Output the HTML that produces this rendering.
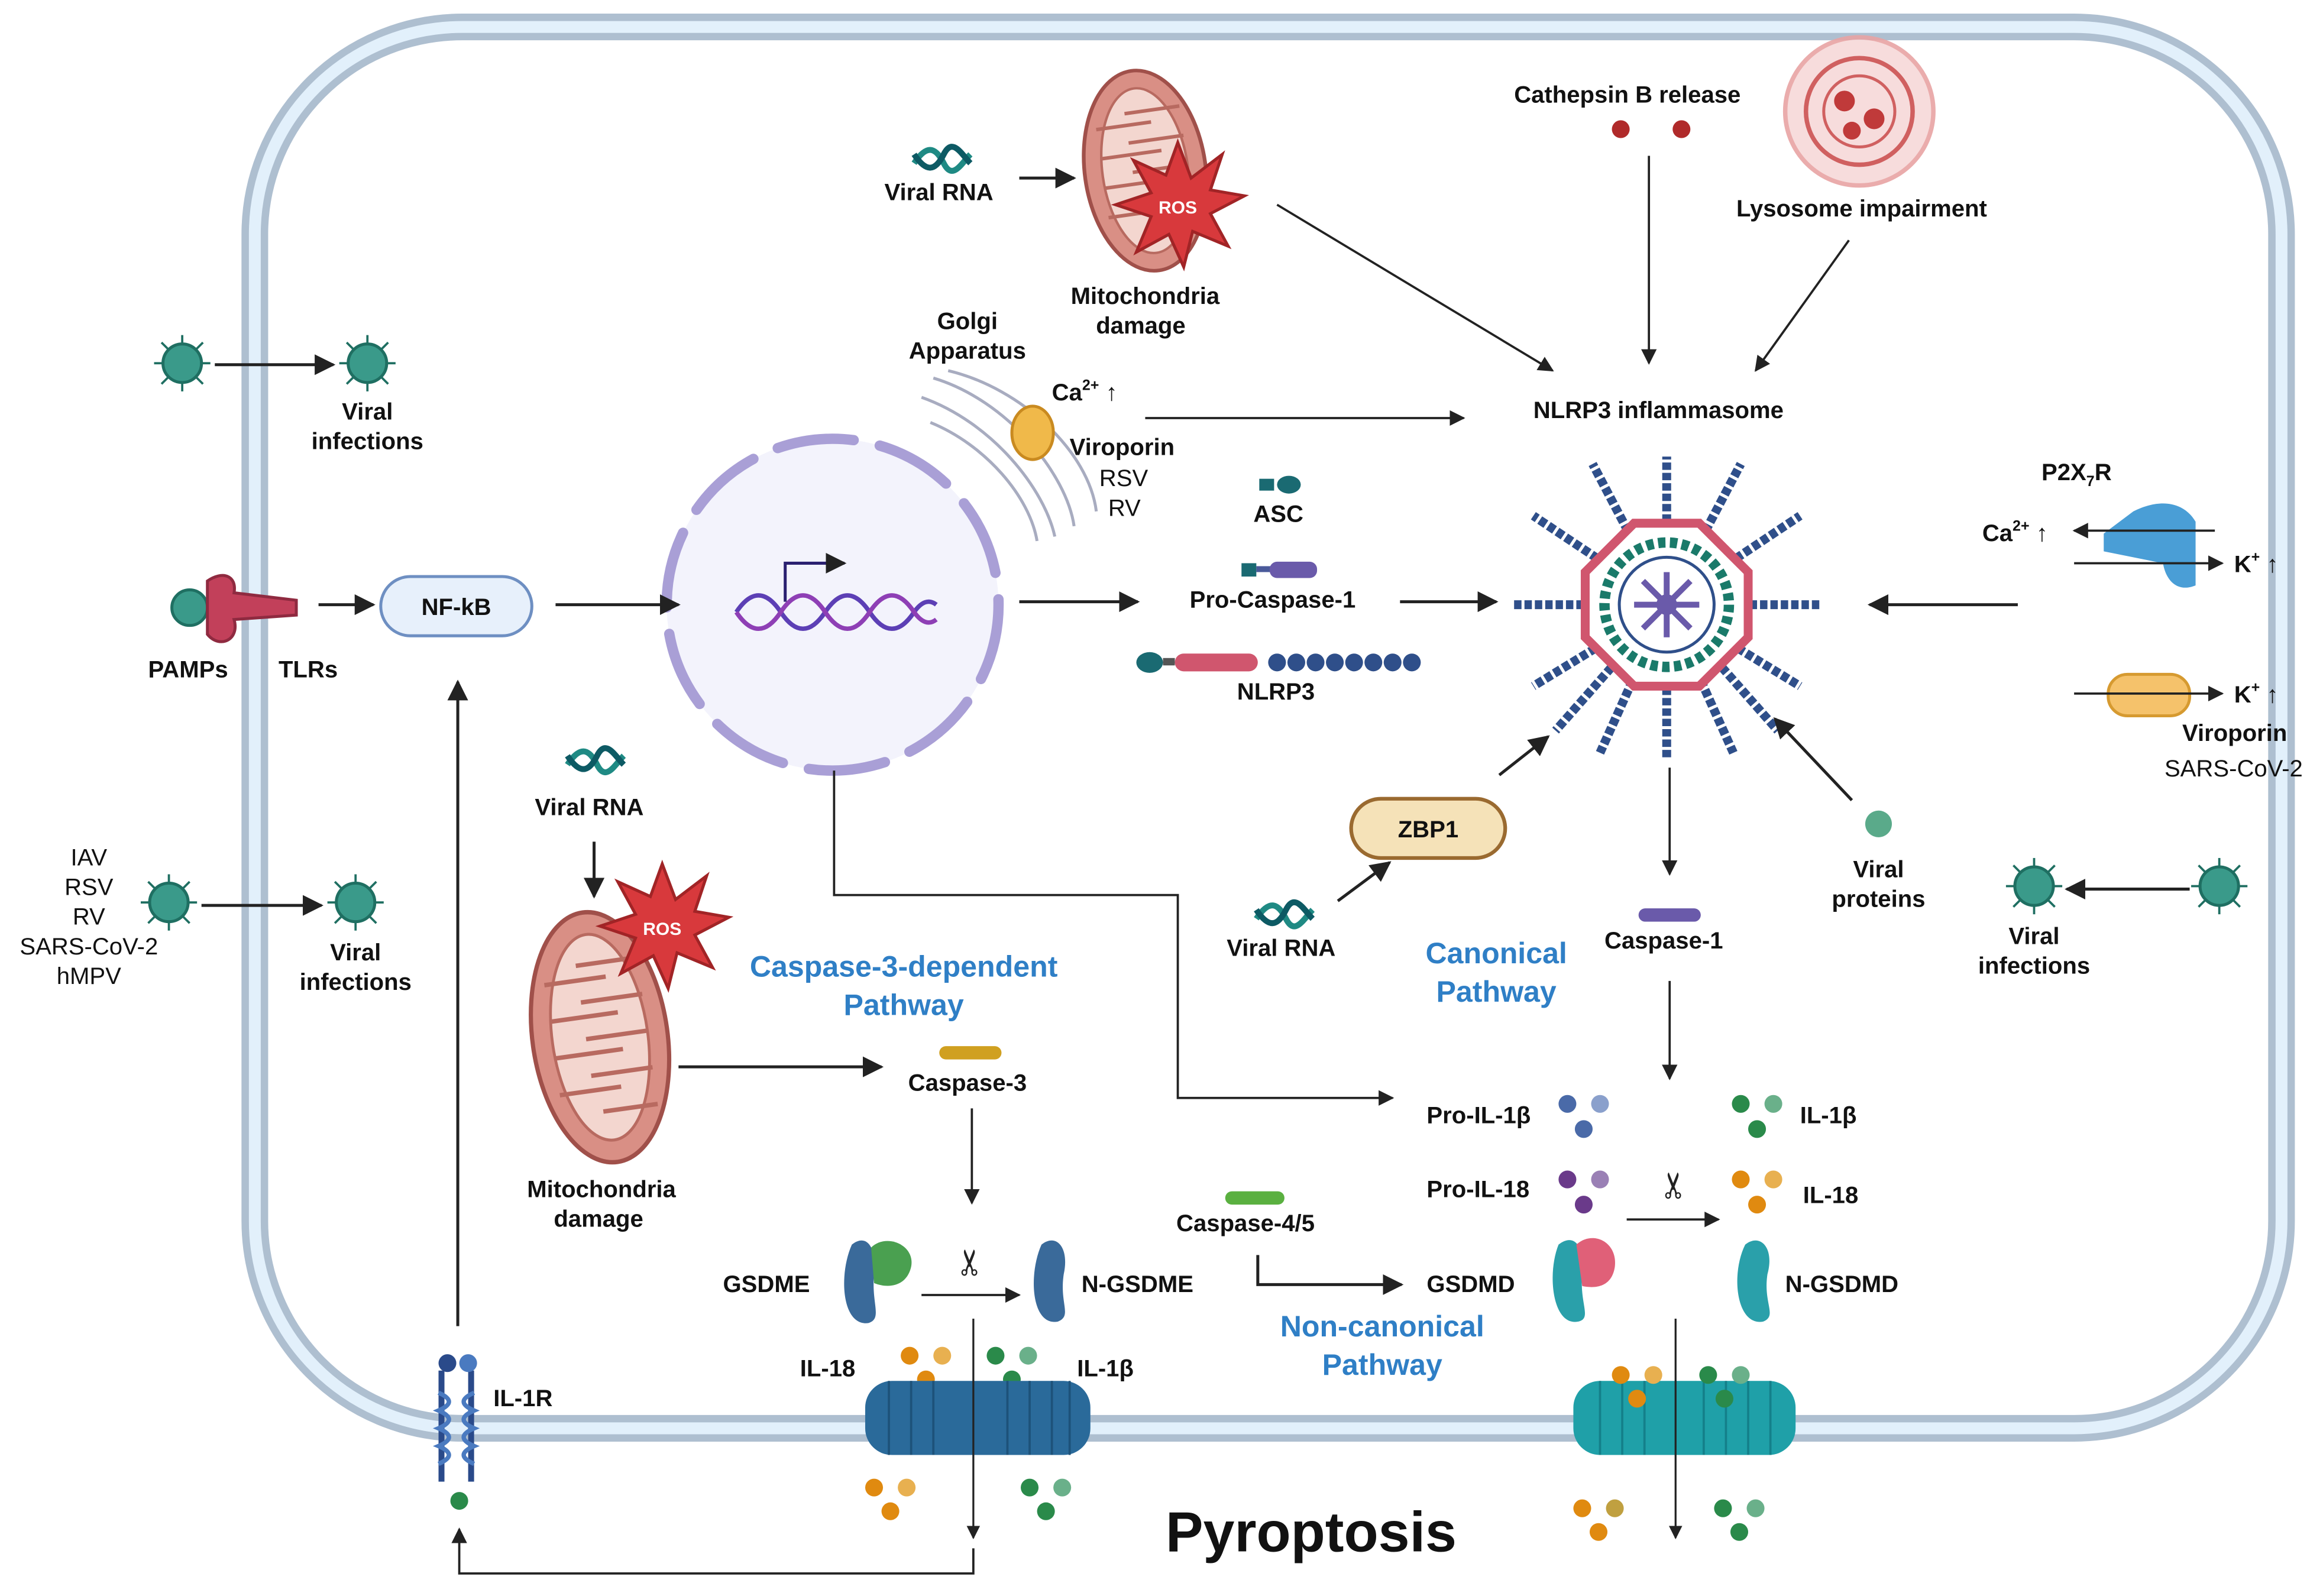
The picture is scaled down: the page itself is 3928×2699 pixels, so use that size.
<!DOCTYPE html>
<html><head><meta charset="utf-8">
<style>
html,body{margin:0;padding:0;background:#fff;}
svg{display:block;}
text{font-family:"Liberation Sans",sans-serif;}
.b{font-weight:bold;font-size:16px;fill:#111;}
.n{font-size:16px;fill:#111;}
.blue{font-weight:bold;font-size:20px;fill:#2f7fc6;}
</style></head><body>
<svg width="3928" height="2699" viewBox="0 0 1568 1077" xmlns="http://www.w3.org/2000/svg">
<defs>
<marker id="a" viewBox="0 0 10 10" refX="9" refY="5" markerWidth="7" markerHeight="7" orient="auto-start-reverse"><path d="M0,0 L10,5 L0,10 z" fill="#222"/></marker>
<g id="virus"><circle r="13" fill="#3a9a8a" stroke="#1f6f62" stroke-width="2"/><g stroke="#1f6f62" stroke-width="1.5"><line x1="0" y1="-13" x2="0" y2="-19"/><line x1="0" y1="13" x2="0" y2="19"/><line x1="-13" y1="0" x2="-19" y2="0"/><line x1="13" y1="0" x2="19" y2="0"/><line x1="9" y1="9" x2="14" y2="14"/><line x1="-9" y1="9" x2="-14" y2="14"/><line x1="9" y1="-9" x2="14" y2="-14"/><line x1="-9" y1="-9" x2="-14" y2="-14"/></g></g>
<g id="rna"><path d="M0,6 C8,-6 14,-6 20,6 C26,18 32,6 38,0" fill="none" stroke="#1f8a84" stroke-width="4"/><path d="M0,0 C8,12 14,12 20,0 C26,-12 32,0 38,6" fill="none" stroke="#0d5a64" stroke-width="4"/></g>
<g id="mito"><ellipse cx="0" cy="0" rx="48" ry="85" fill="#d98f85" stroke="#a0504a" stroke-width="3"/><ellipse cx="0" cy="0" rx="34" ry="70" fill="#f3d6cf" stroke="#b86a60" stroke-width="2"/><path d="M-34,-40 L10,-40 M-34,-15 L15,-15 M-34,10 L15,10 M-34,35 L10,35 M34,-50 L-10,-50 M34,-25 L-10,-25 M34,0 L-10,0 M34,25 L-10,25 M34,50 L-5,50" stroke="#b86a60" stroke-width="3"/></g>
<g id="ros"><polygon points="0,-42 9,-18 30,-34 22,-10 45,-6 22,6 34,28 10,18 4,42 -6,20 -28,32 -18,8 -42,0 -18,-8 -30,-30 -8,-20" fill="#d8393c" stroke="#a12426" stroke-width="2"/></g>
</defs>

<!-- cell membrane -->
<rect x="172" y="18" width="1368" height="946" rx="140" fill="#fff" stroke="#aebfd0" stroke-width="18"/>
<rect x="172" y="18" width="1368" height="946" rx="140" fill="none" stroke="#e2f0fb" stroke-width="8"/>

<!-- nucleus -->
<circle cx="562" cy="408" r="112" fill="#f3f3fc"/>
<circle cx="562" cy="408" r="112" fill="none" stroke="#a99fd6" stroke-width="7" stroke-dasharray="52 18" stroke-linecap="round"/>
<path d="M497,413 C507,398 517,398 527,413 C537,428 547,428 557,413 C567,398 577,398 587,413 C597,428 607,428 617,413 C622,406 627,404 632,408" fill="none" stroke="#5c3fb5" stroke-width="3"/>
<path d="M497,413 C507,428 517,428 527,413 C537,398 547,398 557,413 C567,428 577,428 587,413 C597,398 607,398 617,413 C622,420 627,422 632,418" fill="none" stroke="#8e3fb5" stroke-width="3"/>
<path d="M530,406 L530,380 L570,380" fill="none" stroke="#2a2070" stroke-width="2" marker-end="url(#a)"/>

<!-- golgi -->
<g fill="none" stroke="#a8acc0" stroke-width="2">
<path d="M630,255 C680,270 720,320 725,355"/><path d="M622,268 C670,285 705,330 712,362"/><path d="M628,285 C665,300 695,335 700,365"/><path d="M640,250 C690,262 735,305 740,345"/>
</g>
<ellipse cx="697" cy="292" rx="14" ry="18" fill="#f0b94a" stroke="#c98a20" stroke-width="2"/>

<!-- top virus -->
<use href="#virus" x="123" y="245"/><use href="#virus" x="248" y="245"/>
<line x1="145" y1="246" x2="225" y2="246" stroke="#222" stroke-width="2" marker-end="url(#a)"/>
<text class="b" x="248" y="283" text-anchor="middle">Viral</text><text class="b" x="248" y="303" text-anchor="middle">infections</text>

<!-- PAMPs TLRs -->
<circle cx="128" cy="410" r="12" fill="#3a9a8a" stroke="#1f6f62" stroke-width="2"/>
<path d="M140,392 C150,385 160,388 158,400 L200,405 L200,415 L158,418 C162,432 148,438 140,428 Z" fill="#c2405a" stroke="#8f2a40" stroke-width="2"/>
<text class="b" x="100" y="457">PAMPs</text><text class="b" x="188" y="457">TLRs</text>
<line x1="215" y1="408" x2="252" y2="408" stroke="#222" stroke-width="2" marker-end="url(#a)"/>
<rect x="257" y="389" width="102" height="40" rx="20" fill="#e7f0fb" stroke="#6e8fc2" stroke-width="2"/>
<text class="b" x="308" y="415" text-anchor="middle">NF-kB</text>
<line x1="375" y1="408" x2="458" y2="408" stroke="#222" stroke-width="2" marker-end="url(#a)"/>

<!-- left virus -->
<g class="n" text-anchor="middle"><text x="60" y="584">IAV</text><text x="60" y="604">RSV</text><text x="60" y="624">RV</text><text x="60" y="644">SARS-CoV-2</text><text x="60" y="664">hMPV</text></g>
<use href="#virus" x="114" y="609"/><use href="#virus" x="240" y="609"/>
<line x1="136" y1="611" x2="217" y2="611" stroke="#222" stroke-width="2" marker-end="url(#a)"/>
<text class="b" x="240" y="648" text-anchor="middle">Viral</text><text class="b" x="240" y="668" text-anchor="middle">infections</text>

<!-- top viral RNA + mito -->
<use href="#rna" x="617" y="104"/>
<text class="b" x="597" y="135">Viral RNA</text>
<line x1="688" y1="120" x2="725" y2="120" stroke="#222" stroke-width="2" marker-end="url(#a)"/>
<g transform="translate(773,115) rotate(-8) scale(0.85,0.8)"><use href="#mito"/></g>
<use href="#ros" x="795" y="138"/><text x="795" y="144" text-anchor="middle" font-weight="bold" font-size="12" fill="#fff">ROS</text>
<text class="b" x="773" y="205" text-anchor="middle">Mitochondria</text><text class="b" x="770" y="225" text-anchor="middle">damage</text>
<line x1="862" y1="138" x2="1048" y2="250" stroke="#222" stroke-width="1.5" marker-end="url(#a)"/>

<text class="b" x="653" y="222" text-anchor="middle">Golgi</text><text class="b" x="653" y="242" text-anchor="middle">Apparatus</text>
<text class="b" x="710" y="270" font-size="17">Ca<tspan font-size="10" dy="-7">2+</tspan><tspan dy="7"> ↑</tspan></text>
<line x1="773" y1="282" x2="988" y2="282" stroke="#222" stroke-width="1.5" marker-end="url(#a)"/>
<text class="b" x="722" y="307">Viroporin</text><text class="n" x="742" y="328">RSV</text><text class="n" x="748" y="348">RV</text>

<!-- cathepsin & lysosome -->
<text class="b" x="1022" y="69">Cathepsin B release</text>
<circle cx="1094" cy="87" r="6" fill="#b02a2a"/><circle cx="1135" cy="87" r="6" fill="#b02a2a"/>
<circle cx="1255" cy="75" r="50" fill="#f7d9d9" stroke="#e8a4a4" stroke-width="3" opacity="0.9"/>
<circle cx="1255" cy="75" r="36" fill="none" stroke="#d06060" stroke-width="3"/>
<circle cx="1255" cy="75" r="24" fill="none" stroke="#d06060" stroke-width="2"/>
<circle cx="1245" cy="68" r="7" fill="#c03a3a"/><circle cx="1265" cy="80" r="7" fill="#c03a3a"/><circle cx="1250" cy="88" r="6" fill="#c03a3a"/>
<text class="b" x="1172" y="146">Lysosome impairment</text>
<line x1="1113" y1="105" x2="1113" y2="245" stroke="#222" stroke-width="1.5" marker-end="url(#a)"/>
<line x1="1248" y1="162" x2="1185" y2="250" stroke="#222" stroke-width="1.5" marker-end="url(#a)"/>
<text class="b" x="1035" y="282">NLRP3 inflammasome</text>

<!-- ASC pro-caspase nlrp3 -->
<rect x="850" y="323" width="10" height="8" fill="#1a6a72"/><ellipse cx="870" cy="327" rx="8" ry="6" fill="#1a6a72"/>
<text class="b" x="846" y="352">ASC</text>
<line x1="688" y1="406" x2="768" y2="406" stroke="#222" stroke-width="2" marker-end="url(#a)"/>
<rect x="838" y="380" width="10" height="9" fill="#1a6a72"/><rect x="848" y="382" width="10" height="4" fill="#4a5a9a"/><rect x="857" y="379" width="32" height="11" rx="5" fill="#6a5aaa"/>
<text class="b" x="803" y="410">Pro-Caspase-1</text>
<line x1="945" y1="406" x2="1010" y2="406" stroke="#222" stroke-width="2" marker-end="url(#a)"/>
<ellipse cx="776" cy="447" rx="9" ry="7" fill="#1a6a72"/><rect x="785" y="444" width="8" height="5" fill="#555"/>
<rect x="793" y="441" width="56" height="12" rx="6" fill="#d0566e"/>
<g fill="#2f4f8a"><circle cx="862" cy="447" r="6"/><circle cx="875" cy="447" r="6"/><circle cx="888" cy="447" r="6"/><circle cx="901" cy="447" r="6"/><circle cx="914" cy="447" r="6"/><circle cx="927" cy="447" r="6"/><circle cx="940" cy="447" r="6"/><circle cx="953" cy="447" r="6"/></g>
<text class="b" x="835" y="472">NLRP3</text>

<!-- inflammasome -->
<g transform="translate(1125,408)">
<g stroke="#2f4f8a" stroke-width="6" stroke-dasharray="5 2">
<line x1="0" y1="0" x2="0" y2="-100"/><line x1="0" y1="0" x2="50" y2="-95"/><line x1="0" y1="0" x2="-50" y2="-95"/><line x1="0" y1="0" x2="90" y2="-60"/><line x1="0" y1="0" x2="-90" y2="-60"/><line x1="0" y1="0" x2="105" y2="0"/><line x1="0" y1="0" x2="-105" y2="0"/><line x1="0" y1="0" x2="90" y2="55"/><line x1="0" y1="0" x2="-90" y2="55"/><line x1="0" y1="0" x2="45" y2="100"/><line x1="0" y1="0" x2="-45" y2="100"/><line x1="0" y1="0" x2="0" y2="105"/><line x1="0" y1="0" x2="-75" y2="85"/><line x1="0" y1="0" x2="75" y2="85"/>
</g>
<polygon points="-22,-55 22,-55 55,-22 55,22 22,55 -22,55 -55,22 -55,-22" fill="#fff" stroke="#d0566e" stroke-width="6"/>
<circle r="42" fill="none" stroke="#1a7a6a" stroke-width="7" stroke-dasharray="5 3"/>
<circle r="32" fill="#fff" stroke="#2f4f8a" stroke-width="2"/>
<g stroke="#6a5aaa" stroke-width="4"><line x1="-22" y1="0" x2="22" y2="0"/><line x1="0" y1="-22" x2="0" y2="22"/><line x1="-16" y1="-16" x2="16" y2="16"/><line x1="-16" y1="16" x2="16" y2="-16"/></g>
<circle r="7" fill="#6a5aaa"/>
</g>

<!-- P2X7R -->
<text class="b" x="1378" y="324">P2X<tspan font-size="10" dy="4">7</tspan><tspan dy="-4">R</tspan></text>
<path d="M1440,345 C1460,335 1475,340 1482,352 L1482,395 C1470,400 1462,392 1460,380 L1420,372 L1420,360 Z" fill="#4a9ed6"/>
<text class="b" x="1338" y="365" font-size="17">Ca<tspan font-size="10" dy="-7">2+</tspan><tspan dy="7"> ↑</tspan></text>
<line x1="1495" y1="358" x2="1400" y2="358" stroke="#222" stroke-width="1.5" marker-end="url(#a)"/>
<line x1="1400" y1="380" x2="1500" y2="380" stroke="#222" stroke-width="1.5" marker-end="url(#a)"/>
<text class="b" x="1508" y="386" font-size="17">K<tspan font-size="10" dy="-7">+</tspan><tspan dy="7"> ↑</tspan></text>
<line x1="1362" y1="408" x2="1262" y2="408" stroke="#222" stroke-width="2" marker-end="url(#a)"/>
<rect x="1423" y="455" width="55" height="28" rx="13" fill="#f5c26b" stroke="#d69a30" stroke-width="2"/>
<line x1="1400" y1="468" x2="1500" y2="468" stroke="#222" stroke-width="1.5" marker-end="url(#a)"/>
<text class="b" x="1508" y="474" font-size="17">K<tspan font-size="10" dy="-7">+</tspan><tspan dy="7"> ↑</tspan></text>
<text class="b" x="1473" y="500">Viroporin</text><text class="n" x="1461" y="524">SARS-CoV-2</text>

<!-- right virus -->
<use href="#virus" x="1373" y="598"/><use href="#virus" x="1498" y="598"/>
<line x1="1478" y1="600" x2="1395" y2="600" stroke="#222" stroke-width="2" marker-end="url(#a)"/>
<text class="b" x="1373" y="637" text-anchor="middle">Viral</text><text class="b" x="1373" y="657" text-anchor="middle">infections</text>

<!-- ZBP1, viral proteins -->
<rect x="912" y="539" width="104" height="40" rx="20" fill="#f5e2b8" stroke="#9a6a30" stroke-width="2.5"/>
<text class="b" x="964" y="565" text-anchor="middle">ZBP1</text>
<line x1="1012" y1="523" x2="1045" y2="497" stroke="#222" stroke-width="2" marker-end="url(#a)"/>
<use href="#rna" x="848" y="614"/>
<line x1="903" y1="608" x2="938" y2="582" stroke="#222" stroke-width="2" marker-end="url(#a)"/>
<text class="b" x="828" y="645">Viral RNA</text>
<circle cx="1268" cy="556" r="9" fill="#5aaa8a"/>
<text class="b" x="1268" y="592" text-anchor="middle">Viral</text><text class="b" x="1268" y="612" text-anchor="middle">proteins</text>
<line x1="1250" y1="540" x2="1198" y2="485" stroke="#222" stroke-width="2" marker-end="url(#a)"/>

<text class="blue" x="1010" y="650" text-anchor="middle">Canonical</text><text class="blue" x="1010" y="676" text-anchor="middle">Pathway</text>
<line x1="1127" y1="518" x2="1127" y2="590" stroke="#222" stroke-width="1.5" marker-end="url(#a)"/>
<rect x="1106" y="613" width="42" height="9" rx="4.5" fill="#6a5aaa"/>
<text class="b" x="1083" y="640">Caspase-1</text>
<line x1="1127" y1="662" x2="1127" y2="728" stroke="#222" stroke-width="1.5" marker-end="url(#a)"/>

<!-- nucleus to pro-IL -->
<polyline points="563,520 563,604 795,604 795,741 940,741" fill="none" stroke="#222" stroke-width="1.5" marker-end="url(#a)"/>
<text class="b" x="963" y="758">Pro-IL-1β</text>
<circle cx="1058" cy="745" r="6" fill="#4a6aa8"/><circle cx="1080" cy="745" r="6" fill="#8aa0cc"/><circle cx="1069" cy="762" r="6" fill="#4a6aa8"/>
<text class="b" x="963" y="808">Pro-IL-18</text>
<circle cx="1058" cy="796" r="6" fill="#6a3a8a"/><circle cx="1080" cy="796" r="6" fill="#9a80b5"/><circle cx="1069" cy="813" r="6" fill="#6a3a8a"/>
<circle cx="1175" cy="745" r="6" fill="#2a8a4a"/><circle cx="1197" cy="745" r="6" fill="#6ab08a"/><circle cx="1186" cy="762" r="6" fill="#2a8a4a"/>
<text class="b" x="1215" y="758">IL-1β</text>
<circle cx="1175" cy="796" r="6" fill="#e08a10"/><circle cx="1197" cy="796" r="6" fill="#e8b050"/><circle cx="1186" cy="813" r="6" fill="#e08a10"/>
<text class="b" x="1217" y="812">IL-18</text>
<text x="1130" y="808" font-size="24" text-anchor="middle" fill="#222" transform="rotate(-90 1130 800)">✂</text>
<line x1="1098" y1="823" x2="1160" y2="823" stroke="#222" stroke-width="1.5" marker-end="url(#a)"/>

<!-- GSDMD -->
<path d="M1052,840 C1062,832 1070,840 1068,860 C1066,880 1075,890 1065,892 C1048,895 1044,860 1052,840 Z" fill="#2aa0aa"/>
<path d="M1064,840 C1075,830 1092,838 1090,855 C1088,868 1078,870 1068,868 Z" fill="#e06078"/>
<text class="b" x="963" y="872">GSDMD</text>
<path d="M1178,840 C1188,832 1198,842 1193,860 C1190,880 1200,888 1190,892 C1172,895 1168,860 1178,840 Z" fill="#2aa0aa"/>
<text class="b" x="1205" y="872">N-GSDMD</text>
<rect x="827" y="804" width="40" height="9" rx="4.5" fill="#5ab040"/>
<text class="b" x="794" y="831">Caspase-4/5</text>
<polyline points="849,847 849,867 946,867" fill="none" stroke="#222" stroke-width="2" marker-end="url(#a)"/>
<text class="blue" x="933" y="902" text-anchor="middle">Non-canonical</text><text class="blue" x="933" y="928" text-anchor="middle">Pathway</text>

<!-- right pore -->
<rect x="1062" y="932" width="150" height="50" rx="18" fill="#1fa0a8"/>
<g stroke="#14808a" stroke-width="1.5"><line x1="1080" y1="932" x2="1080" y2="982"/><line x1="1095" y1="932" x2="1095" y2="982"/><line x1="1110" y1="932" x2="1110" y2="982"/><line x1="1150" y1="932" x2="1150" y2="982"/><line x1="1165" y1="932" x2="1165" y2="982"/><line x1="1180" y1="932" x2="1180" y2="982"/><line x1="1195" y1="932" x2="1195" y2="982"/></g>
<line x1="1131" y1="890" x2="1131" y2="1038" stroke="#222" stroke-width="1.3" marker-end="url(#a)"/>
<circle cx="1094" cy="928" r="6" fill="#e08a10"/><circle cx="1116" cy="928" r="6" fill="#e8b050"/><circle cx="1105" cy="944" r="6" fill="#e08a10"/>
<circle cx="1153" cy="928" r="6" fill="#2a8a4a"/><circle cx="1175" cy="928" r="6" fill="#6ab08a"/><circle cx="1164" cy="944" r="6" fill="#2a8a4a"/>
<circle cx="1068" cy="1018" r="6" fill="#e08a10"/><circle cx="1090" cy="1018" r="6" fill="#c0a040"/><circle cx="1079" cy="1034" r="6" fill="#e08a10"/>
<circle cx="1163" cy="1018" r="6" fill="#2a8a4a"/><circle cx="1185" cy="1018" r="6" fill="#6ab08a"/><circle cx="1174" cy="1034" r="6" fill="#2a8a4a"/>

<!-- lower viral RNA & mito -->
<use href="#rna" x="383" y="510"/>
<text class="b" x="361" y="550">Viral RNA</text>
<line x1="401" y1="568" x2="401" y2="605" stroke="#222" stroke-width="2" marker-end="url(#a)"/>
<g transform="translate(405,700) rotate(-8) scale(0.95,1)"><use href="#mito"/></g>
<use href="#ros" x="447" y="625"/><text x="447" y="631" text-anchor="middle" font-weight="bold" font-size="12" fill="#fff">ROS</text>
<text class="b" x="406" y="808" text-anchor="middle">Mitochondria</text><text class="b" x="404" y="828" text-anchor="middle">damage</text>
<text class="blue" x="610" y="659" text-anchor="middle">Caspase-3-dependent</text><text class="blue" x="610" y="685" text-anchor="middle">Pathway</text>
<line x1="458" y1="720" x2="595" y2="720" stroke="#222" stroke-width="2" marker-end="url(#a)"/>
<rect x="634" y="706" width="42" height="9" rx="4.5" fill="#d0a020"/>
<text class="b" x="613" y="736">Caspase-3</text>
<line x1="656" y1="748" x2="656" y2="812" stroke="#222" stroke-width="1.5" marker-end="url(#a)"/>

<!-- GSDME -->
<text class="b" x="488" y="872">GSDME</text>
<path d="M575,840 C585,832 592,842 590,860 C588,880 596,890 586,893 C568,895 566,860 575,840 Z" fill="#3a6a9a"/>
<path d="M588,842 C598,832 618,840 615,855 C612,868 600,870 590,866 Z" fill="#4aa050"/>
<text x="655" y="860" font-size="24" text-anchor="middle" fill="#222" transform="rotate(-90 655 852)">✂</text>
<line x1="622" y1="874" x2="688" y2="874" stroke="#222" stroke-width="1.5" marker-end="url(#a)"/>
<path d="M703,840 C713,832 722,842 718,860 C715,880 724,888 714,892 C696,895 694,860 703,840 Z" fill="#3a6a9a"/>
<text class="b" x="730" y="872">N-GSDME</text>
<text class="b" x="540" y="929">IL-18</text>
<circle cx="614" cy="915" r="6" fill="#e08a10"/><circle cx="636" cy="915" r="6" fill="#e8b050"/><circle cx="625" cy="931" r="6" fill="#e08a10"/>
<circle cx="672" cy="915" r="6" fill="#2a8a4a"/><circle cx="694" cy="915" r="6" fill="#6ab08a"/><circle cx="683" cy="931" r="6" fill="#2a8a4a"/>
<text class="b" x="727" y="929">IL-1β</text>
<rect x="584" y="932" width="152" height="50" rx="18" fill="#2a6a9a"/>
<g stroke="#1d527a" stroke-width="1.5"><line x1="600" y1="932" x2="600" y2="982"/><line x1="615" y1="932" x2="615" y2="982"/><line x1="630" y1="932" x2="630" y2="982"/><line x1="680" y1="932" x2="680" y2="982"/><line x1="695" y1="932" x2="695" y2="982"/><line x1="710" y1="932" x2="710" y2="982"/><line x1="722" y1="932" x2="722" y2="982"/></g>
<circle cx="590" cy="1004" r="6" fill="#e08a10"/><circle cx="612" cy="1004" r="6" fill="#e8b050"/><circle cx="601" cy="1020" r="6" fill="#e08a10"/>
<circle cx="695" cy="1004" r="6" fill="#2a8a4a"/><circle cx="717" cy="1004" r="6" fill="#6ab08a"/><circle cx="706" cy="1020" r="6" fill="#2a8a4a"/>
<line x1="657" y1="890" x2="657" y2="1038" stroke="#222" stroke-width="1.3" marker-end="url(#a)"/>
<polyline points="657,1045 657,1062 310,1062 310,1032" fill="none" stroke="#222" stroke-width="1.5" marker-end="url(#a)"/>

<!-- IL-1R -->
<path d="M298,925 L298,1000 M318,925 L318,1000" stroke="#2a4a8a" stroke-width="4"/>
<path d="M296,940 q14,6 0,12 q14,6 0,12 q14,6 0,12 q14,6 0,12 M320,940 q-14,6 0,12 q-14,6 0,12 q-14,6 0,12 q-14,6 0,12" fill="none" stroke="#4a7ac0" stroke-width="3"/>
<circle cx="302" cy="920" r="6" fill="#2a4a8a"/><circle cx="316" cy="920" r="6" fill="#4a7ac0"/>
<circle cx="310" cy="1013" r="6" fill="#2a8a4a"/>
<text class="b" x="333" y="949">IL-1R</text>
<line x1="309" y1="895" x2="309" y2="460" stroke="#222" stroke-width="2" marker-end="url(#a)"/>

<text x="885" y="1047" text-anchor="middle" font-weight="bold" font-size="38" fill="#111">Pyroptosis</text>
</svg>
</body></html>
